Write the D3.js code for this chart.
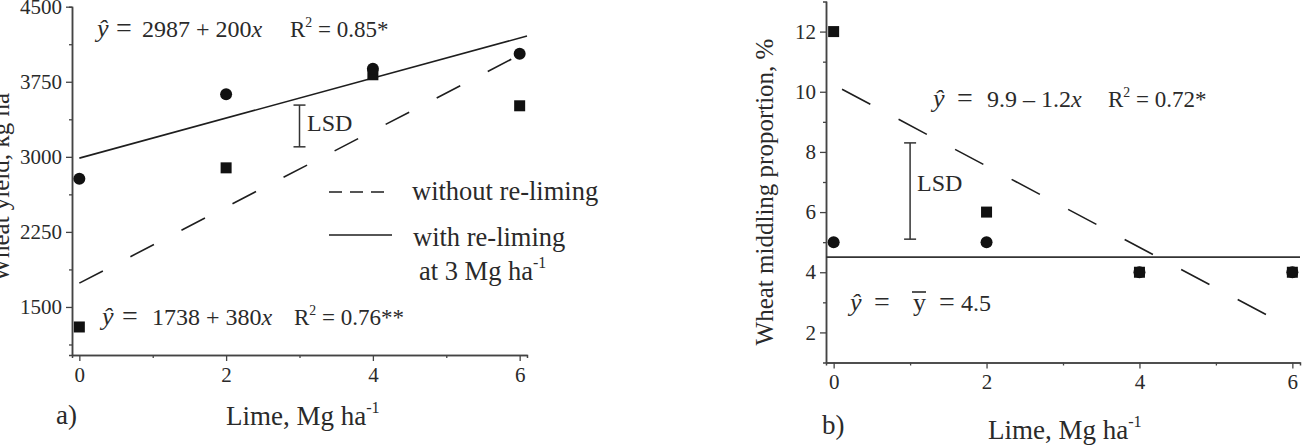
<!DOCTYPE html>
<html><head><meta charset="utf-8">
<script src="https://cdn.jsdelivr.net/npm/d3@7"></script>
<style>
body{margin:0;background:#fff;}
svg{display:block;}
text{font-family:"Liberation Serif","Times New Roman",serif;fill:#2a2a2a;}
</style>
</head><body>
<svg id="c" width="1302" height="447"></svg>
<script>
// ---------- data ----------
const lime = [0, 2, 4, 6];
const yieldWith = [2780, 3625, 3880, 4030];      // circles
const yieldWithout = [1300, 2890, 3820, 3510];   // squares
const fitYieldWith = [2987, 200];                // intercept, slope
const fitYieldWithout = [1738, 380];
const fitYieldWithRange = [0, 6.1];
const fitYieldWithoutRange = [0, 6];
const yieldTicks = [1500, 2250, 3000, 3750, 4500];
const yieldMinor = [1125, 1875, 2625, 3375, 4125];
const limeTicks = [0, 2, 4, 6];
const limeMinor = [1, 3, 5];
const lsdYield = [3100, 3517];
const lsdYieldAt = 3;

const middWith = [5, 5, 4, 4];        // circles
const middWithout = [12, 6, 4, 4];    // squares
const middMean = 4.5;
const fitMiddWithout = [10.23, -1.35]; // line as drawn
const fitMiddRange = [0.11, 5.8];
const middTicks = [2, 4, 6, 8, 10, 12];
const middMinor = [3, 5, 7, 9, 11];
const lsdMidd = [5.1, 8.3];
const lsdMiddAt = 1;

// ---------- setup ----------
const SERIF = '"Liberation Serif","Times New Roman",serif';
const svg = d3.select("#c");
const axisCol = "#444", lineCol = "#1e1e1e", markCol = "#111";

const xA = d3.scaleLinear().domain([-0.1, 6.1]).range([72, 527]);
const yA = d3.scaleLinear().domain([1020, 4500]).range([355, 6.7]);
const xB = d3.scaleLinear().domain([-0.1, 6.1]).range([826, 1300]);
const yB = d3.scaleLinear().domain([1, 13]).range([362.5, 1.5]);

function styleAxis(g, fs) {
  g.attr("font-family", SERIF).attr("font-size", fs);
  g.select(".domain").attr("stroke", axisCol).attr("stroke-width", 1.5);
  g.selectAll(".tick line").attr("stroke", axisCol).attr("stroke-width", 1.3);
  g.selectAll(".tick text").attr("fill", "#333").attr("font-family", SERIF)
    .style("font-size", fs + "px").style("font-family", SERIF);
}

function drawAxes(x, y, yTicks, yMinor, xTicks, xMinor, bottomY, leftX, xLabOff) {
  const gxm = svg.append("g").attr("transform", `translate(0,${bottomY})`)
    .call(d3.axisBottom(x).tickValues(xMinor).tickSize(3).tickFormat(""));
  styleAxis(gxm, 20);
  const gym = svg.append("g").attr("transform", `translate(${leftX},0)`)
    .call(d3.axisLeft(y).tickValues(yMinor).tickSize(3).tickFormat(""));
  styleAxis(gym, 20);
  const gx = svg.append("g").attr("transform", `translate(0,${bottomY})`)
    .call(d3.axisBottom(x).tickValues(xTicks).tickSize(6).tickSizeOuter(0).tickPadding(xLabOff).tickFormat(d3.format("d")));
  styleAxis(gx, 21);
  const gy = svg.append("g").attr("transform", `translate(${leftX},0)`)
    .call(d3.axisLeft(y).tickValues(yTicks).tickSize(6).tickSizeOuter(0).tickPadding(4).tickFormat(d3.format("d")));
  styleAxis(gy, 21);
}

// ---------- panel a ----------
drawAxes(xA, yA, yieldTicks, yieldMinor, limeTicks, limeMinor, 355, 72, 6);

function fitLine(x, y, coef, range, dash) {
  const pts = range.map(v => [x(v), y(coef[0] + coef[1] * v)]);
  svg.append("line").attr("x1", pts[0][0]).attr("y1", pts[0][1])
    .attr("x2", pts[1][0]).attr("y2", pts[1][1])
    .attr("stroke", lineCol).attr("stroke-width", 1.6)
    .attr("stroke-dasharray", dash || null);
}
fitLine(xA, yA, fitYieldWith, fitYieldWithRange, null);
fitLine(xA, yA, fitYieldWithout, fitYieldWithoutRange, "26.5,31");

function lsd(x, y, at, rng) {
  const g = svg.append("g").attr("stroke", "#333").attr("stroke-width", 1.5);
  g.append("line").attr("x1", x(at)).attr("x2", x(at)).attr("y1", y(rng[0])).attr("y2", y(rng[1]));
  rng.forEach(v => g.append("line").attr("x1", x(at) - 6).attr("x2", x(at) + 6).attr("y1", y(v)).attr("y2", y(v)));
}
lsd(xA, yA, lsdYieldAt, lsdYield);
svg.append("text").attr("x", 307).attr("y", 131).style("font-size", "24px").text("LSD");

function markers(x, y, xs, circ, sq) {
  sq.forEach((v, i) => svg.append("rect").attr("x", x(xs[i]) - 5.5).attr("y", y(v) - 5.5)
    .attr("width", 11).attr("height", 11).attr("fill", markCol));
  circ.forEach((v, i) => svg.append("circle").attr("cx", x(xs[i])).attr("cy", y(v)).attr("r", 6).attr("fill", markCol));
}
markers(xA, yA, lime, yieldWith, yieldWithout);

function hatY(x, base, fs) {
  svg.append("text").attr("x", x).attr("y", base).style("font-size", fs + "px")
    .style("font-style", "italic").text("\u0177");
}
function plain(x, base, fs, parts) {
  const t = svg.append("text").attr("x", x).attr("y", base).style("font-size", fs + "px");
  parts.forEach(p => {
    const s = t.append("tspan").text(p.t);
    if (p.i) s.style("font-style", "italic");
    if (p.sup) s.attr("dy", -fs * 0.45).style("font-size", (fs * 0.6) + "px");
    if (p.down) s.attr("dy", fs * 0.45);
  });
  return t;
}
hatY(97, 37, 26);
plain(116, 37, 28, [{t: "="}]);
plain(142, 37, 24, [{t: "2987 + 200"}, {t: "x", i: true}]);
plain(290, 37, 23, [{t: "R"}, {t: "2", sup: true}, {t: " = 0.85*", down: true}]);
hatY(102, 325, 26);
plain(122, 325, 28, [{t: "="}]);
plain(152, 325, 24, [{t: "1738 + 380"}, {t: "x", i: true}]);
plain(294, 325, 23, [{t: "R"}, {t: "2", sup: true}, {t: " = 0.76**", down: true}]);

// legend
svg.append("line").attr("x1", 329).attr("x2", 389).attr("y1", 192).attr("y2", 192)
  .attr("stroke", lineCol).attr("stroke-width", 1.5).attr("stroke-dasharray", "13,8");
svg.append("line").attr("x1", 329).attr("x2", 392).attr("y1", 235).attr("y2", 235)
  .attr("stroke", lineCol).attr("stroke-width", 1.5);
plain(412, 200, 26.5, [{t: "without re-liming"}]);
plain(413, 246, 26.5, [{t: "with re-liming"}]);
plain(419, 280, 26.5, [{t: "at 3 Mg ha"}, {t: "-1", sup: true}]);

plain(226, 425, 27, [{t: "Lime, Mg ha"}, {t: "-1", sup: true}]);
plain(56, 424, 27, [{t: "a)"}]);
svg.append("text").attr("transform", "translate(9,181) rotate(-90)")
  .attr("text-anchor", "middle").style("font-size", "25px")
  .call(t => { t.append("tspan").text("Wheat yield, kg ha");
               t.append("tspan").attr("dy", -11).style("font-size", "15px").text("-1"); });

// ---------- panel b ----------
drawAxes(xB, yB, middTicks, middMinor, limeTicks, limeMinor, 362.5, 826, 6);

svg.append("line").attr("x1", xB(-0.1)).attr("x2", xB(6.1)).attr("y1", yB(middMean)).attr("y2", yB(middMean))
  .attr("stroke", "#333").attr("stroke-width", 1.8);
fitLine(xB, yB, fitMiddWithout, fitMiddRange, "32,32");
lsd(xB, yB, lsdMiddAt, lsdMidd);
svg.append("text").attr("x", 917).attr("y", 191).style("font-size", "24px").text("LSD");
markers(xB, yB, lime, middWith, middWithout);

hatY(933, 107, 26);
plain(957, 107, 28, [{t: "="}]);
plain(987, 107, 24, [{t: "9.9 \u2013 1.2"}, {t: "x", i: true}]);
plain(1108, 107, 23, [{t: "R"}, {t: "2", sup: true}, {t: " = 0.72*", down: true}]);

hatY(850, 311, 26);
plain(874, 311, 28, [{t: "="}]);
plain(913, 311, 26, [{t: "y"}]);
svg.append("line").attr("x1", 912).attr("x2", 926).attr("y1", 292).attr("y2", 292)
  .attr("stroke", "#2a2a2a").attr("stroke-width", 1.6);
plain(939, 311, 28, [{t: "="}]);
plain(961, 311, 24, [{t: "4.5"}]);

plain(988, 439, 27, [{t: "Lime, Mg ha"}, {t: "-1", sup: true}]);
plain(822, 434, 27, [{t: "b)"}]);
svg.append("text").attr("transform", "translate(773,192) rotate(-90)")
  .attr("text-anchor", "middle").style("font-size", "25px").text("Wheat middling proportion, %");
</script>
</body></html>
